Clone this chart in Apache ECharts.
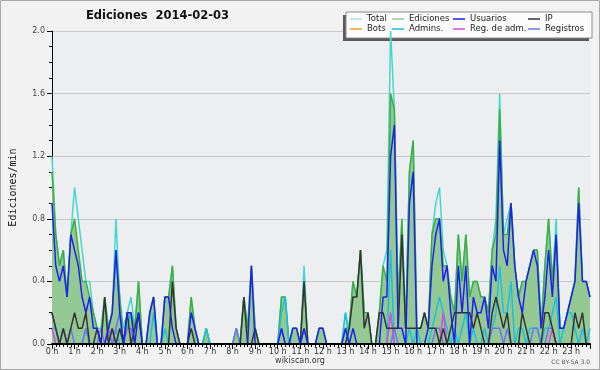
<!DOCTYPE html>
<html>
<head>
<meta charset="utf-8">
<script src="https://cdn.jsdelivr.net/npm/echarts@6/dist/echarts.min.js"></script>
<style>
html,body{margin:0;padding:0;background:#f2f2f2;}
#chart{width:600px;height:370px;}
</style>
</head>
<body>
<div id="chart"></div>
<script>
// Hour tick labels
const hourLabels = ['0 h','1 h','2 h','3 h','4 h','5 h','6 h','7 h','8 h','9 h','10 h','11 h',
  '12 h','13 h','14 h','15 h','16 h','17 h','18 h','19 h','20 h','21 h','22 h','23 h'];
// one sample every 10 minutes (6 per hour), values in edits/min
const total = [
1.2,0.7,0.5,0.6,0.3,0.7, 1.0,0.8,0.6,0.4,0.4,0.2, 0.1,0.1,0.3,0.1,0.2,0.8, 0.3,0.1,0.2,0.3,0.1,0.4,
0,0,0.2,0.3,0,0, 0.3,0.3,0.5,0.1,0,0, 0,0.3,0.1,0,0,0.1, 0,0,0,0,0,0,
0,0.1,0,0.3,0.1,0.5, 0.1,0,0,0,0,0, 0,0.3,0.3,0,0.1,0.1, 0,0.5,0,0,0,0.1,
0.1,0,0,0,0,0, 0.2,0.1,0.4,0.3,0.6,0.2, 0.2,0,0,0.2,0.5,0.6, 2.0,1.5,0.3,0.8,0.1,1.1,
1.3,0.1,0.1,0.2,0.1,0.7, 0.9,1.0,0.6,0.5,0.3,0.2, 0.7,0.4,0.7,0.3,0.4,0.4, 0.3,0.3,0.2,0.6,0.8,1.6,
0.7,0.8,0.9,0.5,0.3,0.4, 0.4,0.5,0.6,0.6,0.1,0.5, 0.8,0.4,0.8,0.1,0.1,0.2, 0.3,0.4,1.0,0.4,0.4,0.3];
const ediciones = [
1.1,0.7,0.5,0.6,0.3,0.7, 0.8,0.6,0.4,0.4,0.3,0.2, 0.1,0,0.3,0.1,0.2,0.6, 0.3,0,0.2,0.2,0.1,0.4,
0,0,0.2,0.3,0,0, 0.3,0.3,0.5,0.1,0,0, 0,0.3,0.1,0,0,0.1, 0,0,0,0,0,0,
0,0.1,0,0.3,0.1,0.5, 0.1,0,0,0,0,0, 0,0.3,0.3,0,0.1,0.1, 0,0.4,0,0,0,0.1,
0.1,0,0,0,0,0, 0.1,0.1,0.4,0.3,0.6,0.2, 0.2,0,0,0.2,0.5,0.4, 1.6,1.5,0.2,0.8,0.1,1.1,
1.3,0.1,0.1,0.2,0.1,0.7, 0.8,0.8,0.5,0.5,0.3,0.2, 0.7,0.4,0.7,0.3,0.4,0.4, 0.3,0.3,0.2,0.6,0.7,1.5,
0.7,0.7,0.9,0.5,0.3,0.4, 0.4,0.5,0.6,0.6,0.1,0.5, 0.8,0.4,0.7,0.1,0.1,0.2, 0.3,0.4,1.0,0.4,0.4,0.3];
const usuarios = [
0.9,0.5,0.4,0.5,0.3,0.7, 0.6,0.5,0.3,0.2,0.3,0.1, 0.1,0,0,0.1,0.2,0.6, 0.2,0,0.2,0.2,0,0.2,
0,0,0.2,0.3,0,0, 0.3,0.3,0.1,0,0,0, 0,0.2,0.1,0,0,0, 0,0,0,0,0,0,
0,0,0,0,0,0.5, 0,0,0,0,0,0, 0,0.1,0,0,0.1,0.1, 0,0.1,0,0,0,0.1,
0.1,0,0,0,0,0, 0.1,0,0.1,0,0,0, 0,0,0,0,0.3,0.3, 1.2,1.4,0.1,0.1,0,0.9,
1.1,0,0,0,0.1,0.5, 0.7,0.8,0.4,0.5,0.2,0, 0.5,0.2,0.5,0,0.3,0.2, 0.2,0.3,0.1,0.5,0.4,1.3,
0.6,0.5,0.9,0.5,0.3,0.2, 0.4,0.5,0.6,0.5,0.1,0.3, 0.6,0.3,0.7,0.1,0.1,0.2, 0.3,0.4,0.9,0.4,0.4,0.3];
const ip = [
0.2,0.1,0,0.1,0,0.1, 0.2,0.1,0.1,0.2,0,0, 0.1,0,0.3,0,0.1,0, 0.1,0,0.2,0,0.1,0.2,
0,0,0,0,0,0, 0,0,0.4,0.1,0,0, 0,0.1,0,0,0,0, 0,0,0,0,0,0,
0,0,0,0.3,0,0, 0.1,0,0,0,0,0, 0,0,0,0,0,0, 0,0.4,0,0,0,0,
0,0,0,0,0,0, 0,0.1,0.3,0.3,0.6,0.1, 0.2,0,0,0.2,0.2,0.1, 0.1,0.1,0.1,0.7,0.1,0.1,
0.1,0.1,0.1,0.2,0.1,0.1, 0.1,0,0.1,0,0.1,0.2, 0.2,0.2,0.2,0.2,0.1,0.2, 0.1,0,0,0.2,0.3,0.2,
0.1,0.2,0,0,0,0.2, 0.1,0,0,0,0,0.2, 0.2,0.1,0,0,0,0, 0,0.2,0.1,0.2,0,0];
const bots = [];
const admins = [
0.1,0.1,0,0,0,0, 0,0,0,0.1,0,0, 0,0,0,0,0,0.1, 0,0,0.1,0.2,0,0,
0,0,0,0.2,0,0, 0.1,0,0,0,0,0, 0,0,0,0,0,0.1, 0,0,0,0,0,0,
0,0,0,0,0,0, 0,0,0,0,0,0, 0,0.2,0.3,0,0,0, 0,0,0,0,0,0,
0,0,0,0,0,0, 0.2,0,0,0,0,0, 0,0,0,0,0,0, 0.6,0,0,0,0,0.1,
0,0.1,0,0,0,0.1, 0.2,0.3,0.2,0.1,0,0.1, 0,0.1,0.2,0,0.1,0, 0,0.1,0,0.1,0.2,0.5,
0.2,0.2,0.4,0,0.1,0.1, 0,0.1,0.1,0.1,0,0.1, 0.1,0.2,0.3,0,0.1,0.2, 0.2,0.1,0,0.1,0,0.1];
const regAdm = [
0.1,0,0,0,0,0, 0,0,0,0,0,0, 0,0,0,0,0.1,0, 0,0,0,0,0,0,
0,0,0,0,0,0, 0,0,0,0,0,0, 0,0,0,0,0,0, 0,0,0,0,0,0,
0,0,0,0,0,0, 0,0,0,0,0,0, 0,0,0,0,0,0, 0,0,0,0,0,0,
0,0,0,0,0,0, 0,0,0,0,0,0, 0,0,0,0,0,0, 0.2,0,0,0,0,0,
0,0,0,0,0,0, 0,0,0.2,0,0,0, 0,0,0,0,0,0, 0,0,0,0,0,0,
0,0,0,0,0,0, 0,0,0,0,0,0, 0,0.1,0,0,0,0, 0,0,0,0,0,0];
const registros = [
0.2,0.1,0,0.1,0,0.1, 0,0,0,0.1,0,0, 0,0.1,0,0.1,0,0.1, 0.2,0,0.1,0.1,0,0,
0,0,0,0,0,0, 0,0,0,0,0,0, 0,0,0,0,0,0, 0,0,0,0,0,0,
0,0.1,0,0,0,0, 0,0,0,0,0,0, 0,0.1,0,0,0,0, 0,0.1,0,0,0,0,
0,0,0,0,0,0, 0,0,0,0,0,0, 0,0,0,0,0,0, 0,0.1,0,0,0,0,
0,0,0,0,0,0, 0.1,0.1,0,0,0,0, 0,0,0,0,0,0, 0,0,0,0.1,0.1,0.1,
0,0.1,0,0,0,0, 0,0,0.1,0.1,0,0, 0.1,0.1,0,0,0,0, 0,0,0,0,0,0];

const STEP = 10; // minutes per sample
const toXY = arr => arr.map((v, i) => [i * STEP, v]);
const FONT = 'DejaVu Sans';

function lineSeries(name, data, color, legendColor, extra) {
  return Object.assign({
    name: name, type: 'line', data: toXY(data), symbol: 'none',
    lineStyle: {color: color, width: 1.5},
    itemStyle: {color: legendColor || color},
    animation: false
  }, extra || {});
}

const chart = echarts.init(document.getElementById('chart'), null, {renderer: 'canvas'});
const legendCommon = {
  orient: 'vertical', top: 14, padding: 0, itemGap: 0, itemWidth: 12, itemHeight: 1.5,
  icon: 'rect', selectedMode: false, z: 6,
  textStyle: {fontFamily: FONT, fontSize: 8.5, color: '#222', lineHeight: 10, padding: [0, 0, 0, 0]}
};
chart.setOption({
  backgroundColor: '#f2f2f2',
  animation: false,
  title: {
    text: 'Ediciones  2014-02-03', left: 86, top: 9, padding: 0,
    textStyle: {fontFamily: FONT, fontSize: 11.5, fontWeight: 'bold', color: '#111', lineHeight: 14}
  },
  legend: [
    Object.assign({}, legendCommon, {left: 350, data: ['Total', 'Bots']}),
    Object.assign({}, legendCommon, {left: 392, data: ['Ediciones', 'Admins.']}),
    Object.assign({}, legendCommon, {left: 453, data: ['Usuarios', 'Reg. de adm.']}),
    Object.assign({}, legendCommon, {left: 528, data: ['IP', 'Registros']})
  ],
  grid: {left: 46, right: 10, top: 31, bottom: 26, show: true, backgroundColor: '#edeef0', borderWidth: 0},
  xAxis: {
    type: 'value', min: 0, max: 1430, interval: 60, z: 10,
    axisLine: {show: true, onZero: false, lineStyle: {color: '#000', width: 2}},
    axisTick: {show: true, length: 5, lineStyle: {color: '#000', width: 1}},
    minorTick: {show: true, splitNumber: 6, length: 3, lineStyle: {color: '#000', width: 1}},
    splitLine: {show: false},
    axisLabel: {
      fontFamily: FONT, fontSize: 8, color: '#333', margin: 4, showMaxLabel: false,
      formatter: v => (v % 60 === 0 ? hourLabels[v / 60] : '')
    }
  },
  yAxis: {
    type: 'value', min: 0, max: 2, interval: 0.4,
    name: 'Ediciones/min', nameLocation: 'middle', nameGap: 34,
    nameTextStyle: {fontFamily: 'DejaVu Sans Mono', fontSize: 10, color: '#111'},
    axisLine: {show: true, lineStyle: {color: '#000', width: 1}},
    axisTick: {show: true, length: 5, lineStyle: {color: '#000'}},
    minorTick: {show: true, splitNumber: 4, length: 3, lineStyle: {color: '#000'}},
    splitLine: {show: true, lineStyle: {color: '#c9c9c9', width: 1}},
    axisLabel: {fontFamily: FONT, fontSize: 8, color: '#444', margin: 7, formatter: v => v.toFixed(1)}
  },
  graphic: [
    {type: 'rect', z: 1, shape: {x: 343, y: 15, width: 246, height: 26}, style: {fill: '#5a5a5a'}},
    {type: 'rect', z: 1, shape: {x: 346, y: 12, width: 246, height: 26}, style: {fill: '#fcfcfc', stroke: '#8a8a8a', lineWidth: 1}},
    {type: 'text', z: 1, x: 300, y: 361, style: {text: 'wikiscan.org', fontFamily: FONT, fontSize: 8, fill: '#333', textAlign: 'center', textVerticalAlign: 'middle'}},
    {type: 'text', z: 1, x: 590, y: 362, style: {text: 'CC BY-SA 3.0', fontFamily: FONT, fontSize: 6, fill: '#555', textAlign: 'right', textVerticalAlign: 'middle'}},
    {type: 'rect', z: 1, shape: {x: 0.5, y: 0.5, width: 599, height: 369}, style: {fill: 'none', stroke: '#a8a8a8', lineWidth: 1}}
  ],
  series: [
    lineSeries('Total', total, '#44d6cf', '#a6e6e4'),
    lineSeries('Ediciones', ediciones, '#41ad41', '#8fd08f', {areaStyle: {color: '#94c994', opacity: 1}}),
    lineSeries('Bots', bots, '#ff9a2e'),
    lineSeries('Admins.', admins, '#1fbfdc'),
    lineSeries('Registros', registros, '#7272f2'),
    lineSeries('Reg. de adm.', regAdm, '#d24ae2'),
    lineSeries('IP', ip, '#333333'),
    lineSeries('Usuarios', usuarios, '#1f1fee')
  ]
});
</script>
</body>
</html>
